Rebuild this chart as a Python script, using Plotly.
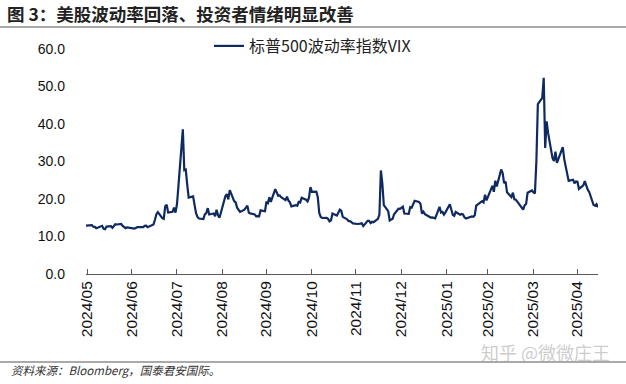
import plotly.graph_objects as go

# ---------------- data ----------------
dates_2024_05 = ["2024-05-31"]
vix_2024_05 = [12.92]

dates_2024_06 = ["2024-06-03", "2024-06-04", "2024-06-05", "2024-06-06", "2024-06-07", "2024-06-10",
                 "2024-06-11", "2024-06-12", "2024-06-13", "2024-06-14", "2024-06-17", "2024-06-18",
                 "2024-06-20", "2024-06-21", "2024-06-24", "2024-06-25", "2024-06-26", "2024-06-27",
                 "2024-06-28"]
vix_2024_06 = [13.11, 13.06, 12.63, 12.58, 12.22, 12.74, 12.85, 12.04, 11.94, 12.66, 12.75, 12.30,
               13.28, 13.20, 13.33, 12.84, 12.55, 12.24, 12.44]

dates_2024_07 = ["2024-07-01", "2024-07-02", "2024-07-03", "2024-07-05", "2024-07-08", "2024-07-09",
                 "2024-07-10", "2024-07-11", "2024-07-12", "2024-07-15", "2024-07-16", "2024-07-17",
                 "2024-07-18", "2024-07-19", "2024-07-22", "2024-07-23", "2024-07-24", "2024-07-25",
                 "2024-07-26", "2024-07-29", "2024-07-30", "2024-07-31"]
vix_2024_07 = [12.22, 12.03, 12.09, 12.48, 12.37, 12.51, 12.85, 12.89, 12.46, 13.12, 13.19, 14.48,
               15.93, 16.52, 14.91, 14.72, 18.04, 18.46, 16.39, 16.60, 17.69, 16.36]

dates_2024_08 = ["2024-08-01", "2024-08-02", "2024-08-05", "2024-08-06", "2024-08-07", "2024-08-08",
                 "2024-08-09", "2024-08-12", "2024-08-13", "2024-08-14", "2024-08-15", "2024-08-16",
                 "2024-08-19", "2024-08-20", "2024-08-21", "2024-08-22", "2024-08-23", "2024-08-26",
                 "2024-08-27", "2024-08-28", "2024-08-29", "2024-08-30"]
vix_2024_08 = [18.59, 23.39, 38.57, 27.71, 27.85, 23.79, 20.37, 20.71, 18.12, 16.19, 15.23, 14.80,
               14.65, 15.88, 16.27, 17.55, 15.86, 16.15, 15.43, 17.11, 15.65, 15.00]

dates_2024_09 = ["2024-09-03", "2024-09-04", "2024-09-05", "2024-09-06", "2024-09-09", "2024-09-10",
                 "2024-09-11", "2024-09-12", "2024-09-13", "2024-09-16", "2024-09-17", "2024-09-18",
                 "2024-09-19", "2024-09-20", "2024-09-23", "2024-09-24", "2024-09-25", "2024-09-26",
                 "2024-09-27", "2024-09-30"]
vix_2024_09 = [20.72, 21.32, 19.90, 22.38, 19.45, 19.08, 17.69, 17.07, 16.56, 17.14, 17.61, 18.23,
               16.33, 16.15, 15.89, 15.39, 15.41, 15.37, 16.96, 16.73]

dates_2024_10 = ["2024-10-01", "2024-10-02", "2024-10-03", "2024-10-04", "2024-10-07", "2024-10-08",
                 "2024-10-09", "2024-10-10", "2024-10-11", "2024-10-14", "2024-10-15", "2024-10-16",
                 "2024-10-17", "2024-10-18", "2024-10-21", "2024-10-22", "2024-10-23", "2024-10-24",
                 "2024-10-25", "2024-10-28", "2024-10-29", "2024-10-30", "2024-10-31"]
vix_2024_10 = [19.26, 18.90, 20.49, 19.21, 22.64, 21.42, 20.86, 20.93, 20.46, 19.70, 20.64, 19.58,
               19.11, 18.03, 18.37, 18.20, 19.24, 19.08, 20.33, 19.80, 19.34, 20.35, 23.16]

dates_2024_11 = ["2024-11-01", "2024-11-04", "2024-11-05", "2024-11-06", "2024-11-07", "2024-11-08",
                 "2024-11-11", "2024-11-12", "2024-11-13", "2024-11-14", "2024-11-15", "2024-11-18",
                 "2024-11-19", "2024-11-20", "2024-11-21", "2024-11-22", "2024-11-25", "2024-11-26",
                 "2024-11-27", "2024-11-29"]
vix_2024_11 = [21.88, 21.98, 20.49, 16.27, 15.20, 14.94, 14.97, 14.71, 14.02, 14.31, 16.14, 15.58,
               16.35, 17.16, 16.87, 15.24, 14.60, 14.10, 14.10, 13.51]

dates_2024_12 = ["2024-12-02", "2024-12-03", "2024-12-04", "2024-12-05", "2024-12-06", "2024-12-09",
                 "2024-12-10", "2024-12-11", "2024-12-12", "2024-12-13", "2024-12-16", "2024-12-17",
                 "2024-12-18", "2024-12-19", "2024-12-20", "2024-12-23", "2024-12-24", "2024-12-26",
                 "2024-12-27", "2024-12-30", "2024-12-31"]
vix_2024_12 = [13.34, 13.30, 13.45, 13.54, 12.77, 14.19, 14.18, 13.58, 13.92, 13.81, 14.69, 15.87,
               27.62, 24.09, 18.36, 16.78, 14.27, 14.73, 15.95, 17.40, 17.35]

dates_2025_01 = ["2025-01-02", "2025-01-03", "2025-01-06", "2025-01-07", "2025-01-08", "2025-01-10",
                 "2025-01-13", "2025-01-14", "2025-01-15", "2025-01-16", "2025-01-17", "2025-01-21",
                 "2025-01-22", "2025-01-23", "2025-01-24", "2025-01-27", "2025-01-28", "2025-01-29",
                 "2025-01-30", "2025-01-31"]
vix_2025_01 = [17.93, 16.13, 16.04, 17.82, 17.70, 19.54, 19.19, 18.71, 16.12, 16.60, 15.97, 15.06,
               15.10, 15.02, 14.85, 17.90, 16.41, 16.56, 15.84, 16.43]

dates_2025_02 = ["2025-02-03", "2025-02-04", "2025-02-05", "2025-02-06", "2025-02-07", "2025-02-10",
                 "2025-02-11", "2025-02-12", "2025-02-13", "2025-02-14", "2025-02-18", "2025-02-19",
                 "2025-02-20", "2025-02-21", "2025-02-24", "2025-02-25", "2025-02-26", "2025-02-27",
                 "2025-02-28"]
vix_2025_02 = [18.62, 17.21, 15.77, 15.50, 16.54, 15.81, 16.02, 15.89, 15.10, 14.77, 15.35, 15.27,
               15.66, 18.21, 18.98, 19.43, 19.10, 21.13, 19.63]

dates_2025_03 = ["2025-03-03", "2025-03-04", "2025-03-05", "2025-03-06", "2025-03-07", "2025-03-10",
                 "2025-03-11", "2025-03-12", "2025-03-13", "2025-03-14", "2025-03-17", "2025-03-18",
                 "2025-03-19", "2025-03-20", "2025-03-21", "2025-03-24", "2025-03-25", "2025-03-26",
                 "2025-03-27", "2025-03-28", "2025-03-31"]
vix_2025_03 = [22.78, 23.51, 21.93, 24.87, 23.37, 27.86, 26.92, 24.23, 24.66, 21.77, 20.51, 21.70,
               19.90, 19.80, 19.28, 17.48, 17.15, 18.33, 18.69, 21.65, 22.28]

dates_2025_04 = ["2025-04-01", "2025-04-02", "2025-04-03", "2025-04-04", "2025-04-07", "2025-04-08",
                 "2025-04-09", "2025-04-10", "2025-04-11", "2025-04-14", "2025-04-15", "2025-04-16",
                 "2025-04-17", "2025-04-21", "2025-04-22", "2025-04-23", "2025-04-24", "2025-04-25",
                 "2025-04-28", "2025-04-29", "2025-04-30"]
vix_2025_04 = [21.77, 21.51, 30.02, 45.31, 46.98, 52.33, 33.62, 40.72, 37.56, 30.89, 30.12, 32.64,
               29.65, 33.82, 30.57, 28.45, 26.47, 24.84, 25.15, 24.17, 24.70]

dates_2025_05 = ["2025-05-01", "2025-05-02", "2025-05-05", "2025-05-06", "2025-05-07", "2025-05-08",
                 "2025-05-09", "2025-05-12", "2025-05-13", "2025-05-14", "2025-05-15"]
vix_2025_05 = [24.60, 22.68, 23.64, 24.76, 23.55, 22.48, 21.90, 18.39, 18.22, 18.62, 17.83]

tick_dates = ["2024-06-01", "2024-07-01", "2024-08-01", "2024-09-01", "2024-10-01", "2024-11-01",
              "2024-12-01", "2025-01-01", "2025-02-01", "2025-03-01", "2025-04-01", "2025-05-01"]
tick_labels = ["2024/05", "2024/06", "2024/07", "2024/08", "2024/09", "2024/10",
               "2024/11", "2024/12", "2025/01", "2025/02", "2025/03", "2025/04"]

series_name = "标普500波动率指数VIX"
title_text = "图 3：美股波动率回落、投资者情绪明显改善"
source_text = "资料来源：Bloomberg，国泰君安国际。"
watermark_text = "知乎 @微微庄王"

# ---------------- build ----------------
dates = (dates_2024_05 + dates_2024_06 + dates_2024_07 + dates_2024_08 + dates_2024_09 + dates_2024_10
         + dates_2024_11 + dates_2024_12 + dates_2025_01 + dates_2025_02 + dates_2025_03 + dates_2025_04
         + dates_2025_05)
vix = (vix_2024_05 + vix_2024_06 + vix_2024_07 + vix_2024_08 + vix_2024_09 + vix_2024_10
       + vix_2024_11 + vix_2024_12 + vix_2025_01 + vix_2025_02 + vix_2025_03 + vix_2025_04
       + vix_2025_05)

CJK = "Noto Sans CJK SC"
LAT = "Liberation Sans"
LINE_COLOR = "#0f2a61"

fig = go.Figure()
fig.add_trace(go.Scatter(
    x=dates, y=vix, mode="lines", name=series_name,
    line=dict(color=LINE_COLOR, width=2.2),
))

W, H = 626, 384
L, R, T, B = 86, 28, 49, 110
pw, ph = W - L - R, H - T - B


def px(xp):
    return (xp - L) / pw


def py(yp):
    return (H - B - yp) / ph


fig.update_layout(
    width=W, height=H,
    margin=dict(l=L, r=R, t=T, b=B, pad=0, autoexpand=False),
    paper_bgcolor="white", plot_bgcolor="white",
    showlegend=True,
    legend=dict(x=px(209), y=py(46), xanchor="left", yanchor="middle",
                bgcolor="rgba(0,0,0,0)", borderwidth=0,
                font=dict(family=CJK, size=16, color="#222222")),
    font=dict(family=LAT, color="#111111"),
    xaxis=dict(
        type="date", range=["2024-05-31", "2025-05-15"],
        tickvals=tick_dates, ticktext=tick_labels, tickangle=-90,
        ticks="inside", ticklen=5, tickcolor="#595959", tickwidth=1,
        showline=True, linecolor="#595959", linewidth=1,
        showgrid=False, zeroline=False, automargin=False,
        tickfont=dict(family=LAT, size=15.5, color="#111111"),
    ),
    yaxis=dict(
        range=[0, 60], dtick=10, tick0=0, tickformat=".1f",
        showgrid=False, zeroline=False, showline=False, ticks="",
        ticklabelstandoff=20, automargin=False,
        tickfont=dict(family=LAT, size=14, color="#111111"),
    ),
)

fig.add_annotation(text="<b>" + title_text + "</b>", xref="paper", yref="paper",
                   x=px(5), y=py(13), xanchor="left", yanchor="middle", showarrow=False,
                   font=dict(family=CJK, size=17.5, color="#222222"))
fig.add_shape(type="line", xref="paper", yref="paper", x0=px(0), x1=px(W), y0=py(27), y1=py(27),
              line=dict(color="#8c8c8c", width=1.3))
fig.add_shape(type="line", xref="paper", yref="paper", x0=px(0), x1=px(W), y0=py(362), y1=py(362),
              line=dict(color="#8c8c8c", width=1.3))
fig.add_annotation(text=watermark_text, xref="paper", yref="paper",
                   x=px(545), y=py(352), xanchor="center", yanchor="middle", showarrow=False,
                   font=dict(family=CJK, size=18, color="rgba(170,170,170,0.6)"))
fig.add_annotation(text=source_text, xref="paper", yref="paper",
                   x=px(9), y=py(370), xanchor="left", yanchor="middle", showarrow=False,
                   font=dict(family=CJK, size=11.5, color="#333333", style="italic"))

fig.write_html("out.html",
               config={"displayModeBar": False},
               post_script="document.body.style.margin='0';document.body.style.padding='0';")
